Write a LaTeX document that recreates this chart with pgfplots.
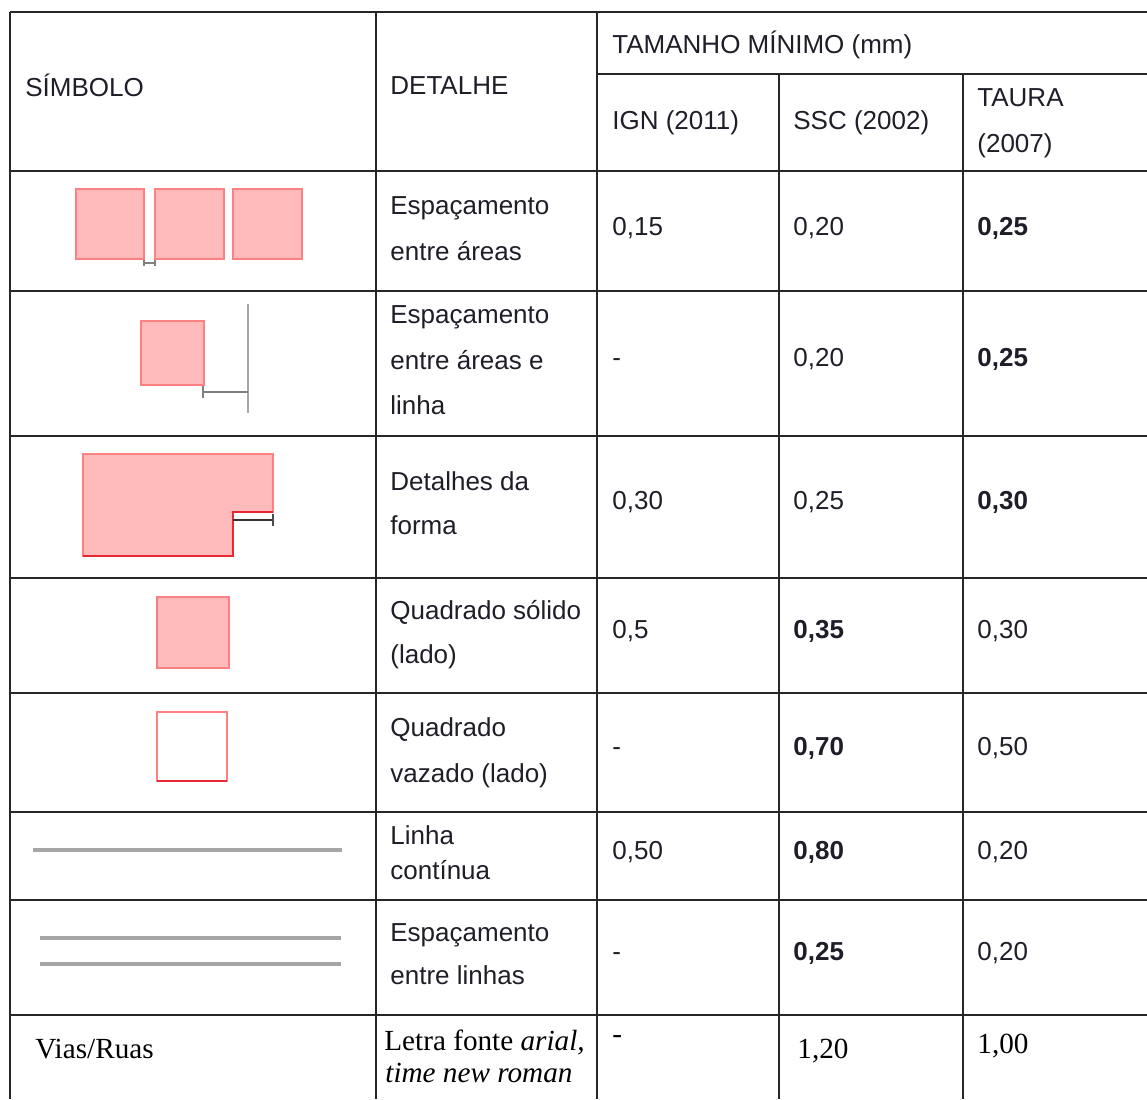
\documentclass[border=0pt]{standalone}
\usepackage{pgfplots}
\pgfplotsset{compat=1.18}
\usepackage{fontspec}
\setmainfont{Liberation Sans}
\newfontfamily\tnr{Liberation Serif}
\definecolor{pinkfill}{RGB}{255,187,187}
\definecolor{pinkedge}{RGB}{255,128,128}
\definecolor{rededge}{RGB}{232,40,50}
\definecolor{lgray}{RGB}{166,166,166}
\definecolor{txt}{RGB}{30,30,40}
\begin{document}
\begin{tikzpicture}
\begin{axis}[
  width=573.5pt, height=549.5pt, scale only axis,
  xmin=0, xmax=1147, ymin=0, ymax=1099, y dir=reverse,
  hide axis, clip=true,
]
\addplot[draw=none] coordinates {(0,0) (1147,1099)};
% ---- table grid ----
\pgfplotsset{grid line/.style={black!85, line width=1.1pt}}
\addplot[grid line] coordinates {(10,12) (10,1099)};
\addplot[grid line] coordinates {(376,12) (376,1099)};
\addplot[grid line] coordinates {(597,12) (597,1099)};
\addplot[grid line] coordinates {(779,74) (779,1099)};
\addplot[grid line] coordinates {(963,74) (963,1099)};
\addplot[grid line] coordinates {(10,12) (1147,12)};
\addplot[grid line] coordinates {(597,74) (1147,74)};
\addplot[grid line] coordinates {(10,171) (1147,171)};
\addplot[grid line] coordinates {(10,291) (1147,291)};
\addplot[grid line] coordinates {(10,436) (1147,436)};
\addplot[grid line] coordinates {(10,578) (1147,578)};
\addplot[grid line] coordinates {(10,693) (1147,693)};
\addplot[grid line] coordinates {(10,812) (1147,812)};
\addplot[grid line] coordinates {(10,900) (1147,900)};
\addplot[grid line] coordinates {(10,1015) (1147,1015)};
% ---- symbols ----
\pgfplotsset{sq/.style={fill=pinkfill, draw=pinkedge, line width=0.8pt}}
% row 1
\addplot[sq] coordinates {(76,189) (144,189) (144,259) (76,259)} --cycle;
\addplot[sq] coordinates {(155,189) (224,189) (224,259) (155,259)} --cycle;
\addplot[sq] coordinates {(233,189) (302,189) (302,259) (233,259)} --cycle;
\addplot[gray, line width=0.6pt] coordinates {(144,263) (155,263)};
\addplot[gray, line width=0.6pt] coordinates {(144,260) (144,266)};
\addplot[gray, line width=0.6pt] coordinates {(155,260) (155,266)};
% row 2
\addplot[sq] coordinates {(141,321) (204,321) (204,385) (141,385)} --cycle;
\addplot[lgray, line width=1.3pt] coordinates {(248,304) (248,413)};
\addplot[gray, line width=1.0pt] coordinates {(203,392) (248,392)};
\addplot[gray, line width=0.8pt] coordinates {(203,386) (203,398)};
% row 3
\addplot[fill=pinkfill, draw=pinkedge, line width=0.8pt] coordinates {(83,454) (273,454) (273,512) (233,512) (233,556) (83,556)} --cycle;
\addplot[rededge, line width=1.1pt] coordinates {(273,512) (233,512) (233,556) (83,556)};
\addplot[black!80, line width=1.0pt] coordinates {(233,520) (273,520)};
\addplot[black!70, line width=0.7pt] coordinates {(273,514) (273,526)};
% row 4
\addplot[sq] coordinates {(157,597) (229,597) (229,668) (157,668)} --cycle;
\addplot[rededge!60, line width=0.8pt] coordinates {(157,597) (157,668)};
% row 5
\addplot[fill=white, draw=pinkedge, line width=0.9pt] coordinates {(157,712) (227,712) (227,781) (157,781)} --cycle;
\addplot[rededge, line width=1.0pt] coordinates {(157,781) (227,781)};
% row 6
\addplot[lgray, line width=1.6pt] coordinates {(33,850) (342,850)};
% row 7
\addplot[lgray, line width=1.6pt] coordinates {(40,938) (341,938)};
\addplot[lgray, line width=1.6pt] coordinates {(40,964) (341,964)};
% ---- texts ----
\begin{scope}[every node/.style={anchor=base west, inner sep=0pt, text=txt, font=\fontsize{13}{15}\selectfont}]
\node at (axis cs:25,96) {SÍMBOLO};
\node at (axis cs:390,94) {DETALHE};
\node at (axis cs:612,53) {TAMANHO MÍNIMO (mm)};
\node at (axis cs:612,129) {IGN (2011)};
\node at (axis cs:793,129) {SSC (2002)};
\node at (axis cs:977,106) {TAURA};
\node at (axis cs:977,152) {(2007)};
% row 1
\node at (axis cs:390,214) {Espaçamento};
\node at (axis cs:390,260) {entre áreas};
\node at (axis cs:612,235) {0,15};
\node at (axis cs:793,235) {0,20};
\node at (axis cs:977,235) {\bfseries 0,25};
% row 2
\node at (axis cs:390,323) {Espaçamento};
\node at (axis cs:390,369) {entre áreas e};
\node at (axis cs:390,414) {linha};
\node at (axis cs:612,366) {-};
\node at (axis cs:793,366) {0,20};
\node at (axis cs:977,366) {\bfseries 0,25};
% row 3
\node at (axis cs:390,490) {Detalhes da};
\node at (axis cs:390,534) {forma};
\node at (axis cs:612,509) {0,30};
\node at (axis cs:793,509) {0,25};
\node at (axis cs:977,509) {\bfseries 0,30};
% row 4
\node at (axis cs:390,619) {Quadrado sólido};
\node at (axis cs:390,663) {(lado)};
\node at (axis cs:612,638) {0,5};
\node at (axis cs:793,638) {\bfseries 0,35};
\node at (axis cs:977,638) {0,30};
% row 5
\node at (axis cs:390,736) {Quadrado};
\node at (axis cs:390,782) {vazado (lado)};
\node at (axis cs:612,755) {-};
\node at (axis cs:793,755) {\bfseries 0,70};
\node at (axis cs:977,755) {0,50};
% row 6
\node at (axis cs:390,844) {Linha};
\node at (axis cs:390,879) {contínua};
\node at (axis cs:612,859) {0,50};
\node at (axis cs:793,859) {\bfseries 0,80};
\node at (axis cs:977,859) {0,20};
% row 7
\node at (axis cs:390,941) {Espaçamento};
\node at (axis cs:390,984) {entre linhas};
\node at (axis cs:612,960) {-};
\node at (axis cs:793,960) {\bfseries 0,25};
\node at (axis cs:977,960) {0,20};
\end{scope}
\begin{scope}[every node/.style={anchor=base west, inner sep=0pt, text=black, font=\tnr\fontsize{14.6}{17}\selectfont}]
\node at (axis cs:35,1058) {Vias/Ruas};
\node at (axis cs:384,1050) {Letra fonte \textit{arial,}};
\node at (axis cs:385,1082) {\textit{time new roman}};
\node at (axis cs:612,1043) {-};
\node at (axis cs:797,1058) {1,20};
\node at (axis cs:977,1053) {1,00};
\end{scope}
\end{axis}
\end{tikzpicture}
\end{document}
